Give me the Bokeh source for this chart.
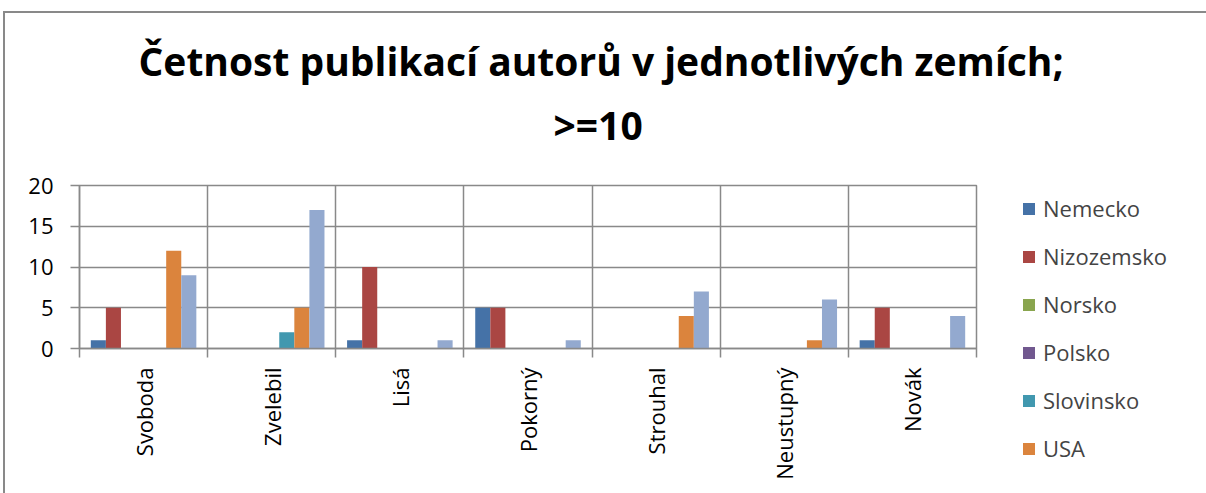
import math
from bokeh.plotting import figure
from bokeh.models import (FactorRange, Range1d, LinearAxis, FixedTicker, Legend,
                          LegendItem, Title, Grid, ColumnDataSource)
from bokeh.transform import dodge
from bokeh.embed import file_html
from bokeh.resources import INLINE

# ---- data ----
authors = ["Svoboda", "Zvelebil", "Lisá", "Pokorný", "Strouhal", "Neustupný", "Novák"]
nemecko = [1, 0, 1, 5, 0, 0, 1]
nizozemsko = [5, 0, 10, 5, 0, 0, 5]
norsko = [0, 0, 0, 0, 0, 0, 0]
polsko = [0, 0, 0, 0, 0, 0, 0]
slovinsko = [0, 2, 0, 0, 0, 0, 0]
usa = [12, 5, 0, 0, 4, 1, 0]
velka_britania = [9, 17, 1, 1, 7, 6, 4]
series_names = ["Nemecko", "Nizozemsko", "Norsko", "Polsko", "Slovinsko", "USA", "Veľká Británia"]
series_values = [nemecko, nizozemsko, norsko, polsko, slovinsko, usa, velka_britania]
legend_count = 6  # the reference legend shows only the first six entries
y_ticks = [0, 5, 10, 15, 20]
title_line1 = "Četnost publikací autorů v jednotlivých zemích;"
title_line2 = ">=10"

colors = ["#4572A7", "#AA4643", "#89A54E", "#71588F", "#4198AF", "#DB843D", "#93A9CF"]
GRID = "#898989"
FONT = "Open Sans"

source = ColumnDataSource(dict(author=authors, **{f"s{i}": v for i, v in enumerate(series_values)}))

n = len(series_names)
bar_w = 1.0 / (n + 1.5)

p = figure(x_range=FactorRange(*authors), y_range=Range1d(0, 20),
           frame_width=897, frame_height=163, output_backend="svg", toolbar_location=None,
           x_axis_location=None,
           min_border_left=74, min_border_right=230, min_border_top=172, min_border_bottom=145)
p.styles = {"border-top": f"2px solid {GRID}", "border-left": f"2px solid {GRID}",
            "margin-top": "11px", "margin-left": "3px"}

renderers = []
for i, name in enumerate(series_names):
    r = p.vbar(x=dodge("author", (i - (n - 1) / 2) * bar_w, range=p.x_range), top=f"s{i}",
               width=bar_w, source=source, fill_color=colors[i], line_color=None)
    renderers.append(r)

# x axis: labels centred on categories (synthetic coords i+0.5), tick marks on boundaries
xaxis = LinearAxis(ticker=FixedTicker(ticks=[i + 0.5 for i in range(len(authors))],
                                      minor_ticks=list(range(len(authors) + 1))),
                   major_label_overrides={i + 0.5: a for i, a in enumerate(authors)})
xaxis.major_label_orientation = math.pi / 2
xaxis.major_tick_out = 0
xaxis.major_tick_in = 0
xaxis.minor_tick_out = 9
xaxis.minor_tick_in = 0
xaxis.minor_tick_line_color = GRID
xaxis.minor_tick_line_width = 1.5
xaxis.axis_line_color = GRID
xaxis.axis_line_width = 1.5
xaxis.major_label_standoff = 10
xaxis.major_label_text_font = FONT
xaxis.major_label_text_font_size = "22px"
xaxis.major_label_text_color = "black"
p.add_layout(xaxis, "below")

p.yaxis.ticker = y_ticks
p.yaxis.axis_line_color = GRID
p.yaxis.axis_line_width = 1.5
p.yaxis.major_tick_out = 9
p.yaxis.major_tick_in = 0
p.yaxis.major_tick_line_color = GRID
p.yaxis.major_tick_line_width = 1.5
p.yaxis.minor_tick_line_color = None
p.yaxis.major_label_standoff = 17
p.yaxis.major_label_text_font = FONT
p.yaxis.major_label_text_font_size = "22px"
p.yaxis.major_label_text_color = "black"

p.ygrid.ticker = y_ticks
p.ygrid.grid_line_color = GRID
p.ygrid.grid_line_width = 1.5
p.xgrid.visible = False
p.add_layout(Grid(dimension=0, ticker=FixedTicker(ticks=list(range(1, len(authors)))),
                  grid_line_color=GRID, grid_line_width=1.5))

p.outline_line_color = GRID
p.outline_line_width = 1.5

# title (two lines; the one added later sits farther from the plot)
title_style = dict(align="left", text_font=FONT, text_font_style="bold",
                   text_font_size="39px", text_color="black")
p.add_layout(Title(text=title_line2, offset=474, standoff=70, **title_style), "above")
try:
    t1 = Title(text=title_line1, offset=59, standoff=-53, **title_style)
except Exception:
    t1 = Title(text=title_line1, offset=59, standoff=0, **title_style)
p.add_layout(t1, "above")

legend = Legend(items=[LegendItem(label=series_names[i], renderers=[renderers[i]])
                       for i in range(legend_count)],
                location=(45, -115), orientation="vertical",
                label_text_font=FONT, label_text_font_size="22px",
                glyph_width=15, glyph_height=15, label_standoff=7,
                spacing=18, label_height=30, padding=0, margin=0,
                border_line_color=None, background_fill_alpha=0)
p.add_layout(legend, "right")

open("out.html", "w").write(file_html(p, INLINE))
